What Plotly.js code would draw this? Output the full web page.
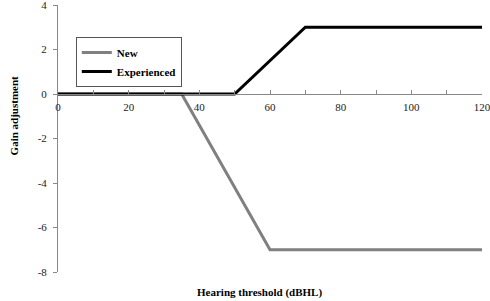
<!DOCTYPE html>
<html><head><meta charset="utf-8">
<script src="https://cdn.plot.ly/plotly-3.0.1.min.js"></script>
<style>html,body{margin:0;padding:0;background:#fff}#c{width:490px;height:301px}</style>
</head><body><div id="c"></div>
<script>
const thresholdNew = [0, 35, 60, 120];
const gainNew = [0, 0, -7, -7];
const thresholdExp = [0, 50, 70, 120];
const gainExp = [0, 0, 3, 3];
const xTickVals = [0, 10, 20, 30, 40, 50, 60, 70, 80, 90, 100, 110, 120];
const xTickText = ['0', '', '20', '', '40', '', '60', '', '80', '', '100', '', '120'];
const yTickVals = [-8, -6, -4, -2, 0, 2, 4];
const yTickText = ['-8', '-6', '-4', '-2', '0', '2', '4'];

const serif = 'Liberation Serif, Times New Roman, serif';
const traces = [
  {x: thresholdNew, y: gainNew, name: 'New', mode: 'lines', line: {color: '#808080', width: 3}},
  {x: thresholdExp, y: gainExp, name: 'Experienced', mode: 'lines', line: {color: '#000000', width: 3}}
];
const layout = {
  width: 490, height: 301,
  margin: {l: 58, r: 8, t: 5, b: 29},
  paper_bgcolor: '#fff', plot_bgcolor: '#fff',
  font: {family: serif, size: 11, color: '#222'},
  showlegend: true,
  legend: {x: 0.042, y: 0.88, xanchor: 'left', yanchor: 'top', bgcolor: '#fff',
    bordercolor: '#555', borderwidth: 1, itemwidth: 30, tracegroupgap: 0,
    font: {family: serif, size: 11, color: '#000', weight: 'bold'}},
  xaxis: {range: [0, 120], anchor: 'free', position: 178/267, showgrid: false, zeroline: false,
    showline: true, linecolor: '#888', linewidth: 1, ticks: 'inside', ticklen: 4, tickcolor: '#888',
    tickvals: xTickVals, ticktext: xTickText, ticklabeloverflow: 'allow', ticklabelstandoff: 3,
    tickfont: {family: serif, size: 11, color: '#222'}},
  yaxis: {range: [-8, 4], showgrid: false, zeroline: false, showline: true, linecolor: '#888', linewidth: 1,
    ticks: 'outside', ticklen: 4, tickcolor: '#888', tickvals: yTickVals, ticktext: yTickText,
    ticklabeloverflow: 'allow', ticklabelstandoff: 4,
    tickfont: {family: serif, size: 11, color: '#222'}},
  annotations: [
    {text: 'Hearing threshold (dBHL)', xref: 'paper', yref: 'paper', x: 0.476, y: -0.078,
     xanchor: 'center', yanchor: 'middle', showarrow: false, font: {family: serif, size: 11, color: '#000', weight: 'bold'}},
    {text: 'Gain adjustment', xref: 'paper', yref: 'paper', x: -0.103, y: 0.584, textangle: -90,
     xanchor: 'center', yanchor: 'middle', showarrow: false, font: {family: serif, size: 11, color: '#000', weight: 'bold'}}
  ]
};
Plotly.newPlot('c', traces, layout, {displayModeBar: false, staticPlot: true});
</script></body></html>
